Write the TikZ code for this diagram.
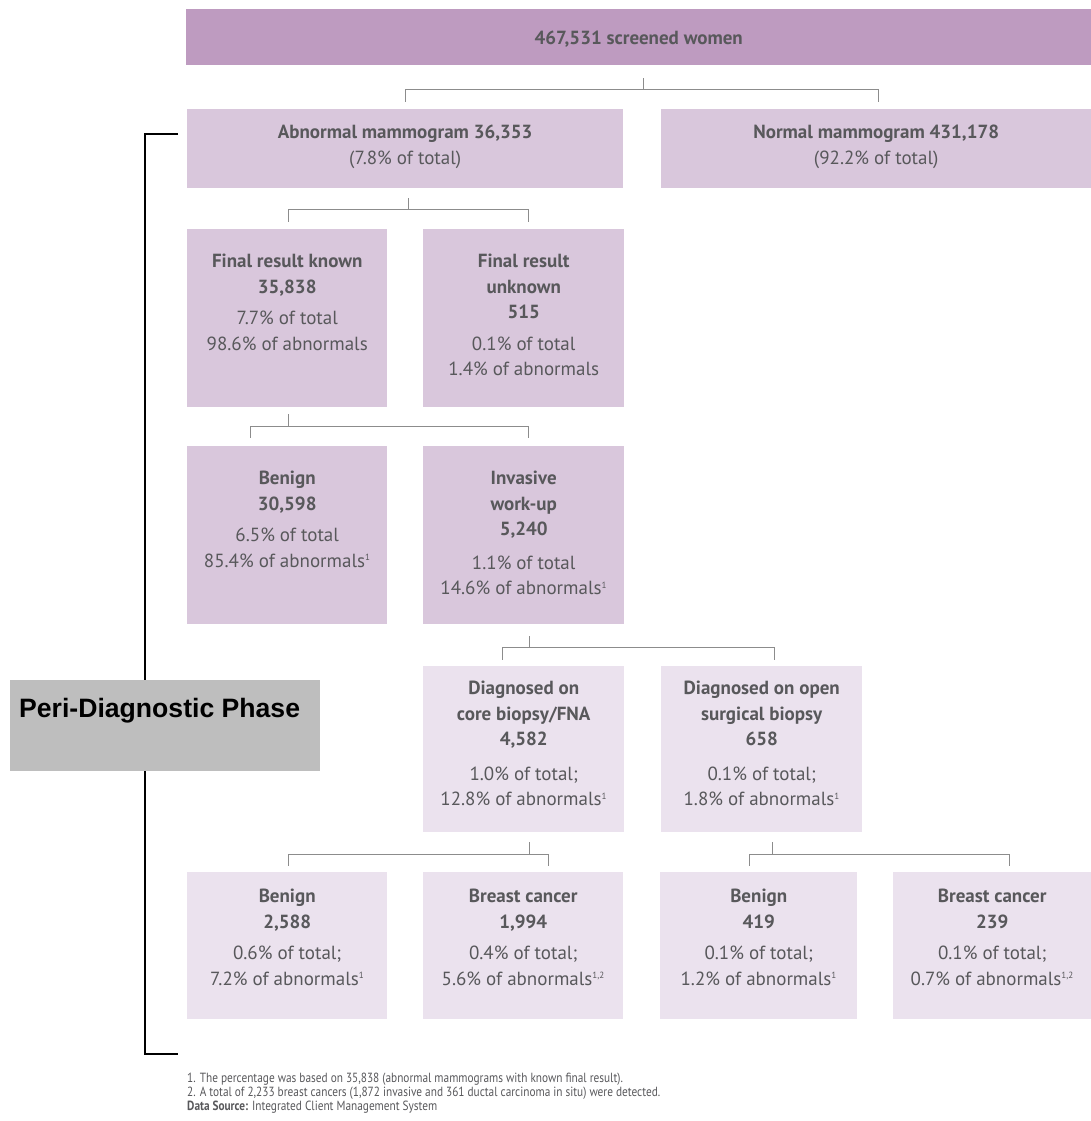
\documentclass[tikz,border=0pt]{standalone}
\usepackage{fontspec}
\setmainfont{PT Sans}
\newfontfamily\notefont[FakeStretch=0.85]{PT Sans}
\newfontfamily\phasefont{Liberation Sans}
\usetikzlibrary{positioning,calc}

\definecolor{topbox}{HTML}{BE9BC0}
\definecolor{midbox}{HTML}{D9C7DC}
\definecolor{lowbox}{HTML}{EBE2EE}
\definecolor{phasebox}{HTML}{BEBEBE}
\definecolor{boxtext}{HTML}{58585B}
\definecolor{linkline}{HTML}{8C8C8C}

\newcommand{\fnmark}[1]{\textsuperscript{\fontsize{9}{9}\selectfont #1}}

\begin{document}
\begin{tikzpicture}[
        x=1pt, y=-1pt,
        font=\fontsize{19}{25.5}\selectfont,
        box/.style={
            rectangle,
            inner sep=0pt,
            anchor=north west,
            fill=#1
        },
        txt/.style={
            align=center,
            inner sep=0pt,
            text=boxtext
        },
        link/.style={draw=linkline, line width=1.4pt},
        bracket/.style={draw=black, line width=2pt},
        note/.style={
            anchor=west,
            inner sep=0pt,
            text=boxtext,
            font=\notefont\fontsize{13.3}{14}\selectfont
        }
    ]

        \useasboundingbox (0,0) rectangle (1091,1121);

        % Phase bracket
        \coordinate (brT) at (178,134);
        \coordinate (brB) at (178,1054);
        \draw[bracket] (brT) -- (brT -| 145,0) -- (brB -| 145,0) -- (brB);

        \node[box=phasebox, minimum width=310pt, minimum height=91pt] (phase) at (10,680) {};
        \node[anchor=north west, inner sep=0pt, font=\phasefont\bfseries\fontsize{26.6}{30}\selectfont,
            below right=18pt and 9pt of phase.north west] (phaseT) {Peri-Diagnostic Phase};

        % Boxes
        \node[box=topbox, minimum width=905pt, minimum height=56pt] (top) at (186,9) {};
        \node[box=midbox, minimum width=436pt, minimum height=79pt] (abn) at (187,109) {};
        \node[box=midbox, minimum width=430pt, minimum height=79pt] (nor) at (661,109) {};
        \node[box=midbox, minimum width=200pt, minimum height=178pt] (fk) at (187,229) {};
        \node[box=midbox, minimum width=201pt, minimum height=178pt] (fu) at (423,229) {};
        \node[box=midbox, minimum width=200pt, minimum height=178pt] (ben1) at (187,446) {};
        \node[box=midbox, minimum width=201pt, minimum height=178pt] (inv) at (423,446) {};
        \node[box=lowbox, minimum width=201pt, minimum height=166pt] (core) at (423,666) {};
        \node[box=lowbox, minimum width=201pt, minimum height=166pt] (open) at (661,666) {};
        \node[box=lowbox, minimum width=200pt, minimum height=147pt] (ben2) at (187,872) {};
        \node[box=lowbox, minimum width=200pt, minimum height=147pt] (bc1) at (423,872) {};
        \node[box=lowbox, minimum width=197pt, minimum height=147pt] (ben3) at (660,872) {};
        \node[box=lowbox, minimum width=198pt, minimum height=147pt] (bc2) at (893,872) {};

        % Box texts
        \node[txt] (topT) at ([yshift=-2pt]top.center) {\textbf{467,531 screened women}};
        \node[txt, below=16pt of abn.north] (abnT)
            {\textbf{Abnormal mammogram 36,353}\\(7.8\% of total)};
        \node[txt, below=16pt of nor.north] (norT)
            {\textbf{Normal mammogram 431,178}\\(92.2\% of total)};
        \node[txt, below=25pt of fk.north] (fkT)
            {\textbf{Final result known}\\\textbf{35,838}\\[6pt]7.7\% of total\\98.6\% of abnormals};
        \node[txt, below=25pt of fu.north] (fuT)
            {\textbf{Final result}\\\textbf{unknown}\\\textbf{515}\\[6pt]0.1\% of total\\1.4\% of abnormals};
        \node[txt, below=25pt of ben1.north] (ben1T)
            {\textbf{Benign}\\\textbf{30,598}\\[6pt]6.5\% of total\\85.4\% of abnormals\fnmark{1}};
        \node[txt, below=25pt of inv.north] (invT)
            {\textbf{Invasive}\\\textbf{work-up}\\\textbf{5,240}\\[8pt]1.1\% of total\\14.6\% of abnormals\fnmark{1}};
        \node[txt, below=15pt of core.north] (coreT)
            {\textbf{Diagnosed on}\\\textbf{core biopsy/FNA}\\\textbf{4,582}\\[9pt]1.0\% of total;\\12.8\% of abnormals\fnmark{1}};
        \node[txt, below=15pt of open.north] (openT)
            {\textbf{Diagnosed on open}\\\textbf{surgical biopsy}\\\textbf{658}\\[9pt]0.1\% of total;\\1.8\% of abnormals\fnmark{1}};
        \node[txt, below=17pt of ben2.north] (ben2T)
            {\textbf{Benign}\\\textbf{2,588}\\[6pt]0.6\% of total;\\7.2\% of abnormals\fnmark{1}};
        \node[txt, below=17pt of bc1.north] (bc1T)
            {\textbf{Breast cancer}\\\textbf{1,994}\\[6pt]0.4\% of total;\\5.6\% of abnormals\fnmark{1,2}};
        \node[txt, below=17pt of ben3.north] (ben3T)
            {\textbf{Benign}\\\textbf{419}\\[6pt]0.1\% of total;\\1.2\% of abnormals\fnmark{1}};
        \node[txt, below=17pt of bc2.north] (bc2T)
            {\textbf{Breast cancer}\\\textbf{239}\\[6pt]0.1\% of total;\\0.7\% of abnormals\fnmark{1,2}};

        % Connectors
        \draw[link] ([xshift=4.5pt,yshift=-13pt]top.south) -- ++(0pt,-11pt) coordinate (j1)
            -| ([yshift=7pt]abn.north);
        \draw[link] (j1) -| ([xshift=2pt,yshift=7pt]nor.north);

        \draw[link] ([xshift=3pt,yshift=-10pt]abn.south) -- ++(0pt,-11pt) coordinate (j2)
            -| ([xshift=1pt,yshift=7pt]fk.north);
        \draw[link] (j2) -| ([xshift=4.5pt,yshift=7pt]fu.north);

        \draw[link] ([xshift=1pt,yshift=-7pt]fk.south) -- ++(0pt,-12pt) coordinate (j3)
            -| ([xshift=-37pt,yshift=8pt]ben1.north);
        \draw[link] (j3) -| ([xshift=4.5pt,yshift=8pt]inv.north);

        \draw[link] ([xshift=5.5pt,yshift=-12pt]inv.south) -- ++(0pt,-11pt) coordinate (j4)
            -| ([xshift=-21.5pt,yshift=6pt]core.north);
        \draw[link] (j4) -| ([xshift=12.5pt,yshift=6pt]open.north);

        \draw[link] ([xshift=5.5pt,yshift=-10pt]core.south) -- ++(0pt,-12pt) coordinate (j5)
            -| ([xshift=1pt,yshift=6pt]ben2.north);
        \draw[link] (j5) -| ([xshift=25pt,yshift=6pt]bc1.north);

        \draw[link] ([xshift=10.5pt,yshift=-10pt]open.south) -- ++(0pt,-12pt) coordinate (j6)
            -| ([xshift=-9.5pt,yshift=6pt]ben3.north);
        \draw[link] (j6) -| ([xshift=17pt,yshift=6pt]bc2.north);

        % Footnotes
        \node[note] (fn1) at (187,1079)
            {1. The percentage was based on 35,838 (abnormal mammograms with known final result).};
        \node[note] (fn2) at (187,1093)
            {2. A total of 2,233 breast cancers (1,872 invasive and 361 ductal carcinoma in situ) were detected.};
        \node[note] (src) at (187,1107)
            {\textbf{Data Source:} Integrated Client Management System};

    \end{tikzpicture}
\end{document}
